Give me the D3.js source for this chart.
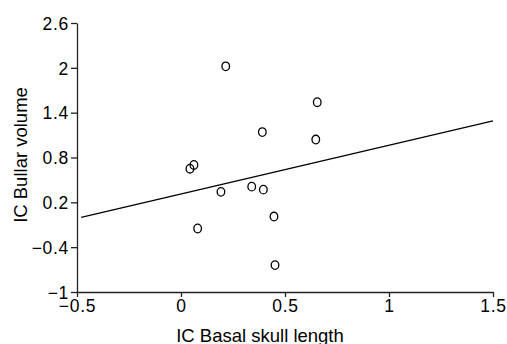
<!DOCTYPE html>
<html>
<head>
<meta charset="utf-8">
<script src="https://cdn.jsdelivr.net/npm/d3@7/dist/d3.min.js"></script>
<style>
  body { margin: 0; background: #fff; }
  text { font-family: "Liberation Sans", Arial, sans-serif; fill: #000; }
  .axis path, .axis line { stroke: #222; stroke-width: 1.3; }
  .axis text { font-size: 17.5px; letter-spacing: 0.7px; }
  .axisLabel { font-size: 18.5px; }
</style>
</head>
<body>
<script>
// data
const basalSkull = [0.215, 0.655, 0.391, 0.648, 0.062, 0.043, 0.192, 0.340, 0.396, 0.080, 0.447, 0.452];
const bullarVol  = [2.02, 1.54, 1.14, 1.04, 0.70, 0.65, 0.34, 0.41, 0.37, -0.15, 0.01, -0.64];
const fitX = [-0.48, 1.5];
const fitY = [0.0, 1.29];
const xTicks = [-0.5, 0, 0.5, 1, 1.5];
const yTicks = [-1, -0.4, 0.2, 0.8, 1.4, 2, 2.6];

const width = 507;
const height = 344;
const margin = {left: 77, right: 14, top: 23, bottom: 52};

const svg = d3.select('body').append('svg')
    .attr('width', width)
    .attr('height', height);

const xScale = d3.scaleLinear()
    .domain([-0.5, 1.5])
    .range([margin.left, width - margin.right]);

const yScale = d3.scaleLinear()
    .domain([-1, 2.6])
    .range([height - margin.bottom, margin.top]);

const xAxis = d3.axisBottom(xScale)
    .tickValues(xTicks)
    .tickFormat(d3.format('~g'))
    .tickSize(5)
    .tickSizeOuter(0)
    .tickPadding(3);

const yAxis = d3.axisLeft(yScale)
    .tickValues(yTicks)
    .tickFormat(d3.format('~g'))
    .tickSize(6)
    .tickSizeOuter(0)
    .tickPadding(2);

svg.append('g')
    .attr('class', 'axis')
    .attr('transform', `translate(0, ${yScale(-1)})`)
    .call(xAxis);

svg.append('g')
    .attr('class', 'axis')
    .attr('transform', `translate(${xScale(-0.5)}, 0)`)
    .call(yAxis)
    .selectAll('text')
        .attr('dy', '0.36em');

// fitted line
svg.append('line')
    .attr('x1', xScale(fitX[0]))
    .attr('y1', yScale(fitY[0]))
    .attr('x2', xScale(fitX[1]))
    .attr('y2', yScale(fitY[1]))
    .attr('stroke', '#000')
    .attr('stroke-width', 1.3);

// points
svg.selectAll('ellipse')
    .data(basalSkull)
    .enter()
    .append('ellipse')
    .attr('cx', d => xScale(d))
    .attr('cy', (d, i) => yScale(bullarVol[i]))
    .attr('rx', 3.8)
    .attr('ry', 4.3)
    .attr('fill', 'none')
    .attr('stroke', '#000')
    .attr('stroke-width', 1.3);

// axis labels
svg.append('text')
    .attr('class', 'axisLabel')
    .text('IC Basal skull length')
    .attr('x', 260)
    .attr('y', 342)
    .attr('text-anchor', 'middle');

svg.append('text')
    .attr('class', 'axisLabel')
    .text('IC Bullar volume')
    .attr('x', 0)
    .attr('y', 0)
    .attr('text-anchor', 'middle')
    .attr('transform', `translate(27, 155) rotate(-90)`);
</script>
</body>
</html>
